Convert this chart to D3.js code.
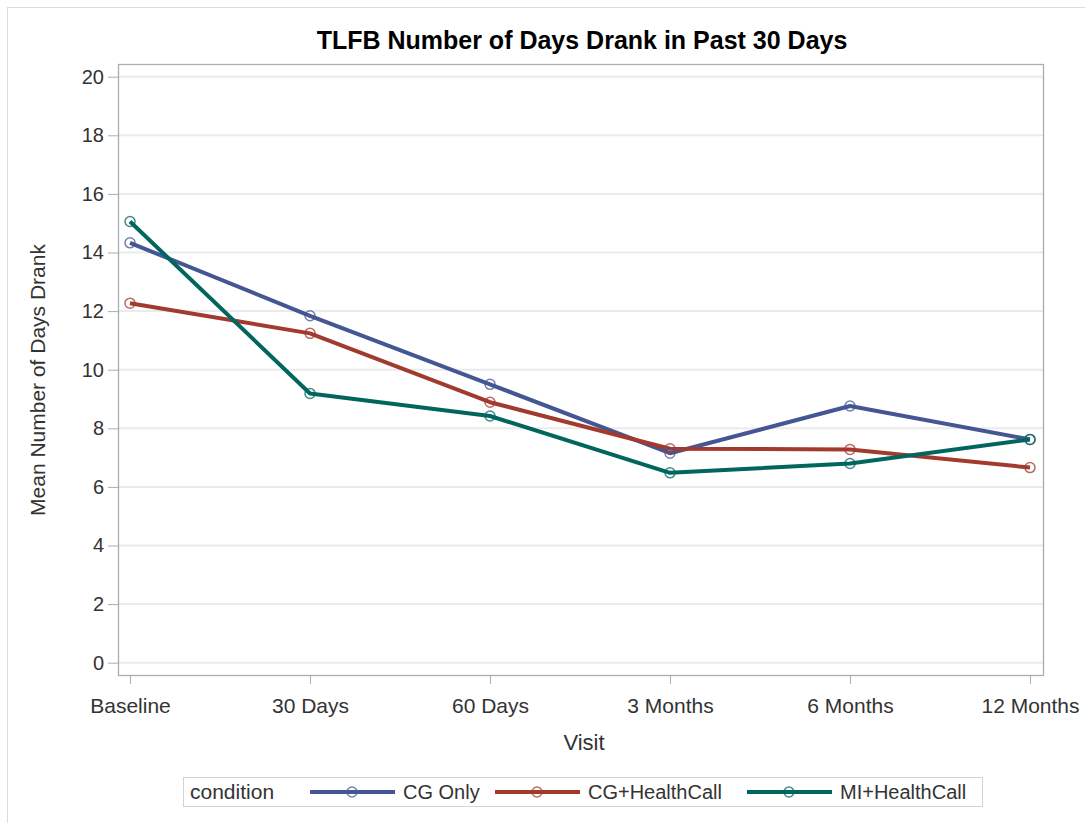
<!DOCTYPE html>
<html><head><meta charset="utf-8">
<script src="https://cdn.jsdelivr.net/npm/d3@7"></script>
<style>body{margin:0;background:#fff;} svg{display:block;font-family:"Liberation Sans",Arial,sans-serif;}</style>
</head><body>
<svg id="c" width="1085" height="823"></svg>
<script>
const visits = ["Baseline","30 Days","60 Days","3 Months","6 Months","12 Months"];
const cgOnly = [14.33, 11.84, 9.50, 7.15, 8.76, 7.62];
const cgHealthCall = [12.27, 11.24, 8.89, 7.30, 7.28, 6.66];
const miHealthCall = [15.06, 9.19, 8.42, 6.48, 6.80, 7.62];
const seriesNames = ["CG Only","CG+HealthCall","MI+HealthCall"];
const seriesColors = ["#445694","#A23A2E","#01665E"];
const yTicks = [0,2,4,6,8,10,12,14,16,18,20];

const series = [cgOnly, cgHealthCall, miHealthCall].map((v,i)=>({name:seriesNames[i], color:seriesColors[i], values:v}));

const svg = d3.select("#c");
// outer border
svg.append("rect").attr("x",7.5).attr("y",7.5).attr("width",1100).attr("height",900)
  .attr("fill","none").attr("stroke","#dcdcdc").attr("stroke-width",1);

const L=118, R=1044, T=64, B=676;
const x = d3.scalePoint().domain(visits).range([130,1030]);
const y = d3.scaleLinear().domain([0,20]).range([662.7,76.7]);

// gridlines
svg.append("g").selectAll("line").data(yTicks).join("line")
  .attr("x1",L).attr("x2",R).attr("y1",d=>y(d)).attr("y2",d=>y(d))
  .attr("stroke","#ebebeb").attr("stroke-width",2);

// frame
svg.append("rect").attr("x",L+0.5).attr("y",T+0.5).attr("width",R-L-1).attr("height",B-T-1)
  .attr("fill","none").attr("stroke","#a8adb2").attr("stroke-width",1.3);

// y axis
const ya = svg.append("g").attr("transform",`translate(${L},0)`)
  .call(d3.axisLeft(y).tickValues(yTicks).tickSize(10).tickPadding(4));
ya.select(".domain").remove();
ya.selectAll("line").attr("stroke","#a8adb2");
ya.selectAll("text").attr("font-size",20).attr("fill","#333");

// x axis
const xa = svg.append("g").attr("transform",`translate(0,${B})`)
  .call(d3.axisBottom(x).tickSize(8).tickPadding(0));
xa.select(".domain").remove();
xa.selectAll("line").attr("stroke","#a8adb2");
xa.selectAll("text").attr("font-size",21).attr("fill","#333").attr("dy",null).attr("y",37);

// titles
svg.append("text").attr("x",582).attr("y",49).attr("text-anchor","middle")
  .attr("font-size",25).attr("font-weight","bold").attr("fill","#000")
  .text("TLFB Number of Days Drank in Past 30 Days");
svg.append("text").attr("x",584).attr("y",750).attr("text-anchor","middle")
  .attr("font-size",22).attr("fill","#333").text("Visit");
svg.append("text").attr("transform","translate(45,380) rotate(-90)").attr("text-anchor","middle")
  .attr("font-size",21).attr("fill","#333").text("Mean Number of Days Drank");

// lines
const line = d3.line().x((d,i)=>x(visits[i])).y(d=>y(d));
const g = svg.append("g");
series.forEach(s=>{
  g.append("path").datum(s.values).attr("d",line).attr("fill","none")
    .attr("stroke",s.color).attr("stroke-width",4).attr("stroke-linejoin","round");
});
series.forEach(s=>{
  g.append("g").selectAll("circle").data(s.values).join("circle")
    .attr("cx",(d,i)=>x(visits[i])).attr("cy",d=>y(d)).attr("r",5)
    .attr("fill","none").attr("stroke",s.color).attr("stroke-opacity",0.75).attr("stroke-width",1.5);
});

// legend
const lg = svg.append("g");
lg.append("rect").attr("x",183.5).attr("y",777.5).attr("width",799).attr("height",29)
  .attr("fill","#fff").attr("stroke","#d4d4d4");
lg.append("text").attr("x",190).attr("y",799).attr("font-size",21).attr("fill","#333").text("condition");
const legX = [310, 495, 747];
series.forEach((s,i)=>{
  const x0 = legX[i];
  lg.append("line").attr("x1",x0).attr("x2",x0+85).attr("y1",792).attr("y2",792)
    .attr("stroke",s.color).attr("stroke-width",4);
  lg.append("circle").attr("cx",x0+42).attr("cy",792).attr("r",5).attr("fill","none")
    .attr("stroke",s.color).attr("stroke-opacity",0.75).attr("stroke-width",1.5);
  lg.append("text").attr("x",x0+93).attr("y",799).attr("font-size",20).attr("fill","#333").text(s.name);
});
</script>
</body></html>
